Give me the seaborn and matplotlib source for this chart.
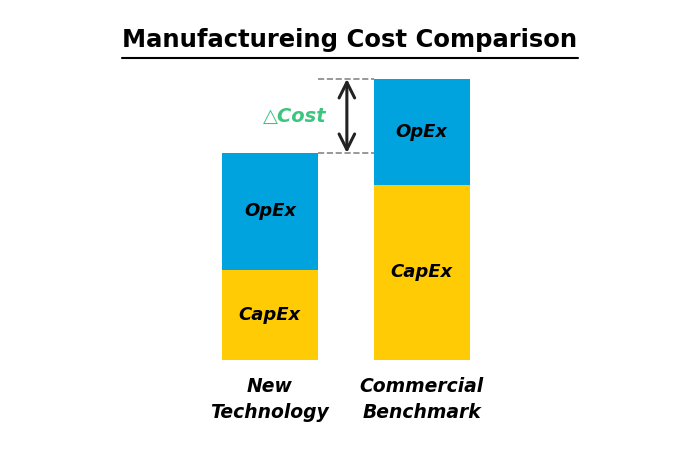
import matplotlib.pyplot as plt
import pandas as pd
import seaborn as sns
from matplotlib.lines import Line2D

# values (arbitrary cost units)
categories = ["New\nTechnology", "Commercial\nBenchmark"]
capex = [9.0, 17.5]
opex = [11.7, 10.6]

blue = "#00A3DD"
yellow = "#FFCB05"
green = "#3DC47E"

sns.set_theme(style="white")
plt.rcParams['font.family'] = ['DejaVu Sans']

df = pd.DataFrame({"cat": categories, "capex": capex, "opex": opex})
df["total"] = df["capex"] + df["opex"]

fig = plt.figure(figsize=(7, 4.57), dpi=100)
ax = fig.add_axes([0.277, 0.2123, 0.434, 0.6565])

# stacked bars: full height in blue, capex on top in yellow
sns.barplot(data=df, x="cat", y="total", color=blue, width=0.63, saturation=1, linewidth=0, ax=ax)
sns.barplot(data=df, x="cat", y="capex", color=yellow, width=0.63, saturation=1, linewidth=0, ax=ax)

for i, row in df.iterrows():
    ax.text(i, row.capex / 2, "CapEx", ha="center", va="center", fontsize=13, style="italic", weight="bold", color="black")
    ax.text(i, row.capex + row.opex / 2, "OpEx", ha="center", va="center", fontsize=13, style="italic", weight="bold", color="black")

# delta cost marker
t0, t1 = df["total"]
half = 0.315
ax.plot([0 + half, 1 - half], [t0, t0], ls="--", color="#888888", lw=1.2)
ax.plot([0 + half, 1 - half], [t1, t1], ls="--", color="#888888", lw=1.2)
ax.annotate("", xy=(0.507, t1), xytext=(0.507, t0),
            arrowprops=dict(arrowstyle="<->", color="#222222", lw=2.2, mutation_scale=28, shrinkA=0, shrinkB=0))
ax.text(0.165, (t0 + t1) / 2, "△Cost", ha="center", va="center", fontsize=14, style="italic", weight="bold", color=green)

ax.set_xlim(-0.5, 1.5)
ax.set_ylim(0, 30)
ax.set_xlabel("")
ax.set_ylabel("")
ax.set_yticks([])
ax.tick_params(axis="x", length=0, pad=12, labelsize=13.5)
for lab in ax.get_xticklabels():
    lab.set_style("italic")
    lab.set_weight("bold")
    lab.set_color("black")
    lab.set_linespacing(1.5)
sns.despine(ax=ax, left=True, bottom=True)

title = fig.text(0.5, 0.912, "Manufactureing Cost Comparison", ha="center", va="center", fontsize=17.5, weight="bold", color="black")
fig.canvas.draw()
bb = title.get_window_extent().transformed(fig.transFigure.inverted())
fig.add_artist(Line2D([bb.x0, bb.x1], [0.873, 0.873], color="black", lw=1.5, transform=fig.transFigure))

fig.savefig("out.png", dpi=100)
